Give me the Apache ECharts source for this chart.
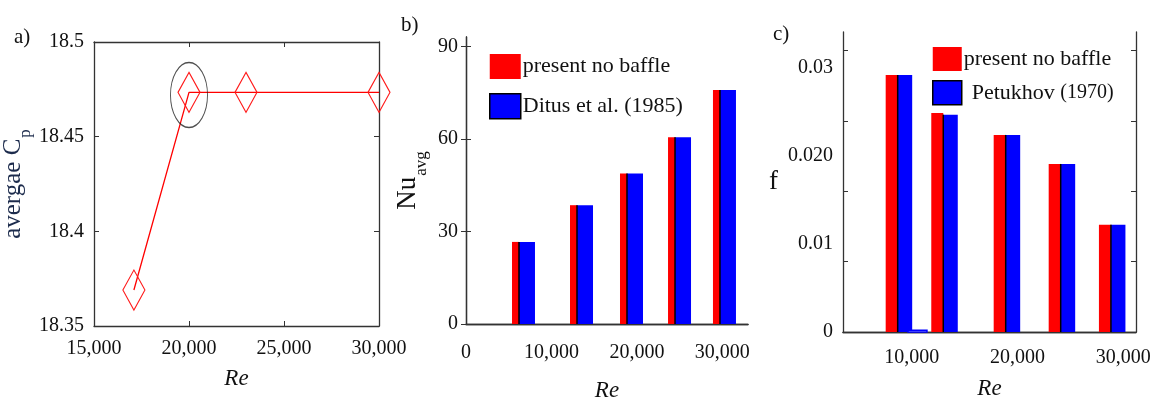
<!DOCTYPE html>
<html>
<head>
<meta charset="utf-8">
<script src="https://cdn.jsdelivr.net/npm/echarts@6/dist/echarts.min.js"></script>
<style>
    html, body { margin: 0; padding: 0; background: #fff; }
    #main { width: 1161px; height: 407px; }
</style>
</head>
<body>
<div id="main"></div>
<script>
// a) average Cp vs Re
const reA = [17100, 20000, 23000, 30000];
const cpA = [18.369, 18.4734, 18.4734, 18.4734];
const circledRe = [20000];
const circledCp = [18.472];
const reTicksA = [15000, 20000, 25000, 30000];
const cpTicksA = [18.35, 18.4, 18.45, 18.5];

// b) Nu_avg vs Re
const reB = [6200, 12990, 18840, 24460, 29720];
const nuPresent = [26.6, 38.5, 48.8, 60.5, 75.8];
const nuDitus = [26.6, 38.5, 48.8, 60.5, 75.8];
const reTicksB = [0, 10000, 20000, 30000];
const nuTicksB = [0, 30, 60, 90];

// c) f vs Re
const reC = [8670, 12980, 18880, 24080, 28830];
const fPresent = [0.0292, 0.0249, 0.0224, 0.0191, 0.0122];
const fPetukhov = [0.0292, 0.0247, 0.0224, 0.0191, 0.0122];
const reStray = [10540];
const fStray = [0.0002];
const reTicksC = [10000, 20000, 30000];
const fTicksC = [0, 0.01, 0.02, 0.03];
const fTickTextC = ['0', '0.01', '0.020', '0.03'];
const fMinorC = [0.008, 0.016, 0.024, 0.032];

const SERIF = 'Liberation Serif';
const INK = '#111';
const FRAME = '#333';

function commas(v) {
    return String(Math.round(v)).replace(/\B(?=(\d{3})+(?!\d))/g, ',');
}

function pairs(xs, ys) {
    return xs.map(function (x, i) { return [x, ys[i]]; });
}

// one half of a red/blue bar pair, split at the data x
function pairBar(side, width, divider) {
    return function (params, api) {
        const top = api.coord([api.value(0), api.value(1)]);
        const base = api.coord([api.value(0), 0]);
        const x = side === 'left' ? top[0] - width : top[0];
        const children = [{
            type: 'rect',
            shape: {x: x, y: top[1], width: width, height: base[1] - top[1]},
            style: {fill: api.visual('color')}
        }];
        if (divider) {
            children.push({
                type: 'line',
                shape: {x1: top[0], y1: top[1], x2: top[0], y2: base[1]},
                style: {stroke: '#000', lineWidth: 1.5}
            });
        }
        return {type: 'group', children: children};
    };
}

function strayBar(width) {
    return function (params, api) {
        const top = api.coord([api.value(0), api.value(1)]);
        const base = api.coord([api.value(0), 0]);
        return {
            type: 'rect',
            shape: {x: top[0] - width / 2, y: top[1], width: width, height: base[1] - top[1]},
            style: {fill: '#fff', stroke: api.visual('color'), lineWidth: 1.5}
        };
    };
}

const frameLine = {show: true, lineStyle: {color: FRAME, width: 1.3}};
const tickFont = {fontFamily: SERIF, fontSize: 20, color: INK};
const reName = {fontFamily: SERIF, fontStyle: 'italic', fontSize: 23, color: INK};

const myChart = echarts.init(document.getElementById('main'));

const option = {
    backgroundColor: '#fff',
    animation: false,
    title: [
        {text: 'a)', left: 9, top: 22, textStyle: {fontFamily: SERIF, fontSize: 21, fontWeight: 'normal', color: INK}},
        {text: 'b)', left: 396, top: 10, textStyle: {fontFamily: SERIF, fontSize: 21, fontWeight: 'normal', color: INK}},
        {text: 'c)', left: 768, top: 19, textStyle: {fontFamily: SERIF, fontSize: 21, fontWeight: 'normal', color: INK}}
    ],
    legend: [
        {
            left: 489, top: 54, orient: 'vertical', padding: 0,
            itemWidth: 31, itemHeight: 25, itemGap: 14,
            selectedMode: false,
            data: [
                {name: 'present no baffle', icon: 'rect'},
                {name: 'Ditus et al. (1985)', icon: 'rect', itemStyle: {borderColor: '#000', borderWidth: 1.5}}
            ],
            textStyle: {fontFamily: SERIF, fontSize: 22, color: INK, padding: [0, 0, 0, -3]}
        },
        {
            left: 932, top: 47, orient: 'vertical', padding: 0,
            itemWidth: 29, itemHeight: 24, itemGap: 9,
            selectedMode: false,
            data: [
                {name: 'present no baffle', icon: 'rect'},
                {name: 'Petukhov (1970)', icon: 'rect', itemStyle: {borderColor: '#000', borderWidth: 1.5}}
            ],
            formatter: function (name) {
                return name === 'Petukhov (1970)' ? '{p|Petukhov} {y|(1970)}' : name;
            },
            textStyle: {
                fontFamily: SERIF, fontSize: 22, color: INK, padding: [0, 0, 0, -3],
                rich: {
                    p: {fontFamily: SERIF, fontSize: 22, color: INK, padding: [0, 0, 0, 8]},
                    y: {fontFamily: SERIF, fontSize: 20, color: INK}
                }
            }
        }
    ],
    grid: [
        {left: 93, top: 42, width: 286, height: 284},
        {left: 466, top: 37, width: 282, height: 296},
        {left: 843, top: 32, width: 293, height: 300}
    ],
    xAxis: [
        {
            type: 'value', gridIndex: 0, min: 15000, max: 30000,
            axisLine: frameLine,
            axisTick: {inside: true, length: 5, customValues: reTicksA, lineStyle: {color: FRAME}},
            axisLabel: Object.assign({customValues: reTicksA, formatter: commas, margin: 13}, tickFont),
            splitLine: {show: false},
            name: 'Re', nameLocation: 'middle', nameGap: 41, nameTextStyle: reName
        },
        {
            type: 'value', gridIndex: 0, position: 'top', min: 15000, max: 30000,
            axisLine: frameLine,
            axisTick: {inside: true, length: 5, customValues: reTicksA, lineStyle: {color: FRAME}},
            axisLabel: {show: false}, splitLine: {show: false}
        },
        {
            type: 'value', gridIndex: 1, min: 0, max: 33000,
            axisLine: frameLine,
            axisTick: {show: false},
            axisLabel: Object.assign({customValues: reTicksB, formatter: commas, margin: 19}, tickFont),
            splitLine: {show: false},
            name: 'Re', nameLocation: 'middle', nameGap: 55, nameTextStyle: reName
        },
        {
            type: 'value', gridIndex: 1, position: 'top', min: 0, max: 33000,
            axisLine: frameLine, axisTick: {show: false},
            axisLabel: {show: false}, splitLine: {show: false}
        },
        {
            type: 'value', gridIndex: 2, min: 3500, max: 31200,
            axisLine: frameLine,
            axisTick: {show: false},
            axisLabel: Object.assign({customValues: reTicksC, formatter: commas, margin: 16}, tickFont),
            splitLine: {show: false},
            name: 'Re', nameLocation: 'middle', nameGap: 45, nameTextStyle: reName
        },
        {
            type: 'value', gridIndex: 2, position: 'top', min: 3500, max: 31200,
            axisLine: frameLine, axisTick: {show: false},
            axisLabel: {show: false}, splitLine: {show: false}
        }
    ],
    yAxis: [
        {
            type: 'value', gridIndex: 0, min: 18.35, max: 18.5,
            axisLine: frameLine,
            axisTick: {inside: true, length: 5, customValues: cpTicksA, lineStyle: {color: FRAME}},
            axisLabel: Object.assign({
                customValues: cpTicksA, margin: 10,
                formatter: function (v) { return String(+v.toFixed(2)); }
            }, tickFont),
            splitLine: {show: false},
            name: '{m|avergae C}{s|p}', nameLocation: 'middle', nameRotate: 90, nameGap: 60,
            nameTextStyle: {
                rich: {
                    m: {fontFamily: SERIF, fontSize: 25, color: '#1c2b4c'},
                    s: {fontFamily: SERIF, fontSize: 17, color: '#1c2b4c', padding: [24, 0, 0, 1]}
                }
            }
        },
        {
            type: 'value', gridIndex: 0, position: 'right', min: 18.35, max: 18.5,
            axisLine: frameLine,
            axisTick: {inside: true, length: 5, customValues: cpTicksA, lineStyle: {color: FRAME}},
            axisLabel: {show: false}, splitLine: {show: false}
        },
        {
            type: 'value', gridIndex: 1, min: 0, max: 93,
            axisLine: frameLine,
            axisTick: {inside: true, length: 5, customValues: nuTicksB, lineStyle: {color: FRAME}},
            axisLabel: Object.assign({customValues: nuTicksB, margin: 8}, tickFont),
            splitLine: {show: false},
            name: '{m|Nu}{s|avg}', nameLocation: 'middle', nameRotate: 90, nameGap: 36,
            nameTextStyle: {
                rich: {
                    m: {fontFamily: SERIF, fontSize: 27, color: INK},
                    s: {fontFamily: SERIF, fontSize: 17, color: INK, padding: [28, 0, 0, 1]}
                }
            }
        },
        {
            type: 'value', gridIndex: 1, position: 'right', min: 0, max: 93,
            axisLine: frameLine,
            axisTick: {inside: true, length: 5, customValues: nuTicksB, lineStyle: {color: FRAME}},
            axisLabel: {show: false}, splitLine: {show: false}
        },
        {
            type: 'value', gridIndex: 2, min: 0, max: 0.0341,
            axisLine: frameLine,
            axisTick: {inside: true, length: 5, customValues: fMinorC, lineStyle: {color: FRAME}},
            axisLabel: Object.assign({
                customValues: fTicksC, margin: 10,
                formatter: function (v) {
                    const i = fTicksC.findIndex(function (t) { return Math.abs(t - v) < 1e-9; });
                    return i >= 0 ? fTickTextC[i] : '';
                }
            }, tickFont),
            splitLine: {show: false},
            name: 'f', nameLocation: 'middle', nameRotate: 0, nameGap: 65,
            nameTextStyle: {fontFamily: SERIF, fontSize: 27, color: INK}
        },
        {
            type: 'value', gridIndex: 2, position: 'right', min: 0, max: 0.0341,
            axisLine: frameLine,
            axisTick: {inside: true, length: 5, customValues: fMinorC, lineStyle: {color: FRAME}},
            axisLabel: {show: false}, splitLine: {show: false}
        }
    ],
    series: [
        {
            type: 'line', name: 'Cp', xAxisIndex: 0, yAxisIndex: 0,
            data: pairs(reA, cpA),
            symbol: 'diamond', symbolSize: [22, 40], clip: false,
            lineStyle: {color: '#ff0000', width: 1.3},
            itemStyle: {color: 'rgba(255,255,255,0)', borderColor: '#ff1a1a', borderWidth: 1.2},
            z: 3
        },
        {
            type: 'scatter', name: 'circled', xAxisIndex: 0, yAxisIndex: 0,
            data: pairs(circledRe, circledCp),
            symbol: 'circle', symbolSize: [37, 65],
            itemStyle: {color: 'rgba(0,0,0,0)', borderColor: '#222', borderWidth: 1.2},
            z: 4
        },
        {
            type: 'custom', name: 'present no baffle', xAxisIndex: 2, yAxisIndex: 2,
            data: pairs(reB, nuPresent), encode: {x: 0, y: 1},
            itemStyle: {color: '#ff0000'},
            renderItem: pairBar('left', 7, false)
        },
        {
            type: 'custom', name: 'Ditus et al. (1985)', xAxisIndex: 2, yAxisIndex: 2,
            data: pairs(reB, nuDitus), encode: {x: 0, y: 1},
            itemStyle: {color: '#0000ff'},
            renderItem: pairBar('right', 16, true)
        },
        {
            type: 'custom', name: 'present no baffle', xAxisIndex: 4, yAxisIndex: 4,
            data: pairs(reC, fPresent), encode: {x: 0, y: 1},
            itemStyle: {color: '#ff0000'},
            renderItem: pairBar('left', 12, false)
        },
        {
            type: 'custom', name: 'Petukhov (1970)', xAxisIndex: 4, yAxisIndex: 4,
            data: pairs(reC, fPetukhov), encode: {x: 0, y: 1},
            itemStyle: {color: '#0000ff'},
            renderItem: pairBar('right', 14.5, true)
        },
        {
            type: 'custom', name: 'stray', xAxisIndex: 4, yAxisIndex: 4,
            data: pairs(reStray, fStray), encode: {x: 0, y: 1},
            itemStyle: {color: '#0000ff'},
            renderItem: strayBar(19)
        }
    ]
};

myChart.setOption(option);
window.onresize = myChart.resize;
</script>
</body>
</html>
